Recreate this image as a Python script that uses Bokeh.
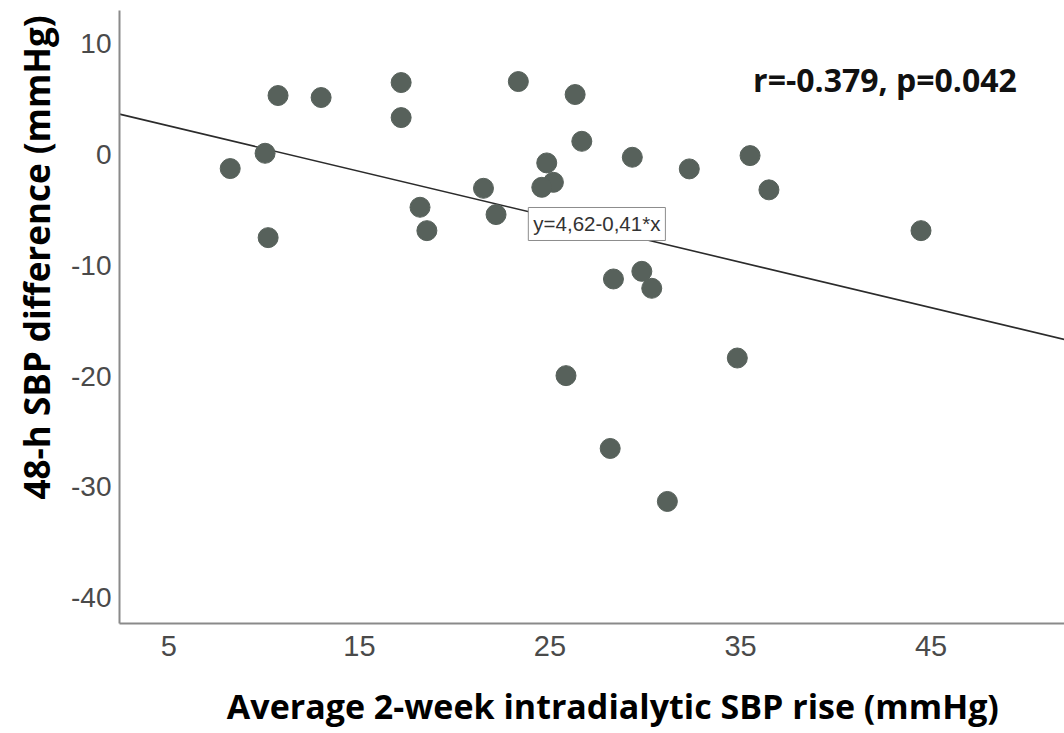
import math
from bokeh.plotting import figure
from bokeh.models import Label, FixedTicker, Range1d, Title, LinearAxis
from bokeh.embed import file_html
from bokeh.resources import INLINE

# ---- data ----
sbp_rise = [10.73, 12.99, 10.05, 8.22, 10.21, 17.19, 17.19, 23.34, 26.32, 26.67,
            24.83, 25.18, 24.57, 21.51, 22.17, 18.18, 18.54, 29.32, 32.31, 35.50,
            36.49, 44.47, 28.33, 29.82, 30.34, 25.84, 34.83, 28.16, 31.16]
sbp_diff = [5.31, 5.13, 0.10, -1.28, -7.51, 6.48, 3.32, 6.57, 5.40, 1.18,
            -0.77, -2.52, -2.97, -3.06, -5.43, -4.77, -6.88, -0.26, -1.31, -0.11,
            -3.20, -6.88, -11.24, -10.55, -12.08, -19.96, -18.37, -26.53, -31.31]

fit_intercept = 4.62
fit_slope = -0.41
fit_label = "y=4,62-0,41*x"
stats_label = "r=-0.379, p=0.042"

x_ticks = [5, 15, 25, 35, 45]
y_ticks = [-40, -30, -20, -10, 0, 10]

x_title = "Average 2-week intradialytic SBP rise (mmHg)"
y_title = "48-h SBP difference (mmHg)"
x_title_pos = 28.3

X_START, X_END = 2.41, 52.0
Y_START, Y_END = -42.32, 12.98

p = figure(width=1064, height=733, output_backend="svg", toolbar_location=None,
           x_range=Range1d(X_START, X_END), y_range=Range1d(Y_START, Y_END),
           min_border_left=119, min_border_right=0, min_border_top=10,
           min_border_bottom=110)
p.outline_line_color = None
p.xgrid.visible = False
p.ygrid.visible = False
p.background_fill_color = "white"
p.border_fill_color = "white"

for ax in (p.xaxis[0], p.yaxis[0]):
    ax.axis_line_color = "#8a8a8a"
    ax.axis_line_width = 2
    ax.major_tick_line_color = None
    ax.minor_tick_line_color = None
    ax.major_tick_in = 0
    ax.major_tick_out = 0
    ax.major_label_text_font = "Liberation Sans"
    ax.major_label_text_font_size = "28px"
    ax.major_label_text_color = "#4a4a4a"
    ax.major_label_standoff = 8

p.xaxis.ticker = FixedTicker(ticks=x_ticks)
p.yaxis.ticker = FixedTicker(ticks=y_ticks)
p.yaxis.major_label_overrides = {t: str(t) for t in y_ticks}
p.xaxis.major_label_overrides = {t: str(t) for t in x_ticks}
p.xaxis[0].major_label_standoff = 12
p.xaxis[0].major_label_text_font_size = "29px"

# x title as a second, line-less axis carrying one label
xt = LinearAxis(ticker=FixedTicker(ticks=[x_title_pos]),
                major_label_overrides={x_title_pos: x_title},
                axis_line_color=None, major_tick_line_color=None,
                minor_tick_line_color=None, major_tick_in=0, major_tick_out=0,
                major_label_standoff=24, major_label_text_font="Open Sans",
                major_label_text_font_style="bold", major_label_text_font_size="34px",
                major_label_text_color="#000000")
p.add_layout(xt, "below")

# regression line
xs = [X_START, X_END]
ys = [fit_intercept + fit_slope * v for v in xs]
p.line(xs, ys, line_color="#2b2b2b", line_width=1.6)

# points
p.scatter(sbp_rise, sbp_diff, size=20, fill_color="#57615b", line_color="#57615b")

# equation box
p.add_layout(Label(x=27.46, y=-6.28, text=fit_label, text_font="Liberation Sans",
                   text_font_size="20.5px", text_color="#333333",
                   text_align="center", text_baseline="middle",
                   background_fill_color="white", border_line_color="#8c8c8c",
                   border_line_width=1, padding=5))

# stats
p.add_layout(Label(x=35.66, y=6.75, text=stats_label, text_font="Open Sans",
                   text_font_style="bold", text_font_size="32px", text_color="#111111",
                   text_align="left", text_baseline="alphabetic"))

# y title
p.add_layout(Title(text=y_title, text_font="Open Sans", text_font_style="bold",
                   text_font_size="35px", text_color="#000000", align="left",
                   offset=124, standoff=18), "left")

open("out.html", "w").write(file_html(p, INLINE))
